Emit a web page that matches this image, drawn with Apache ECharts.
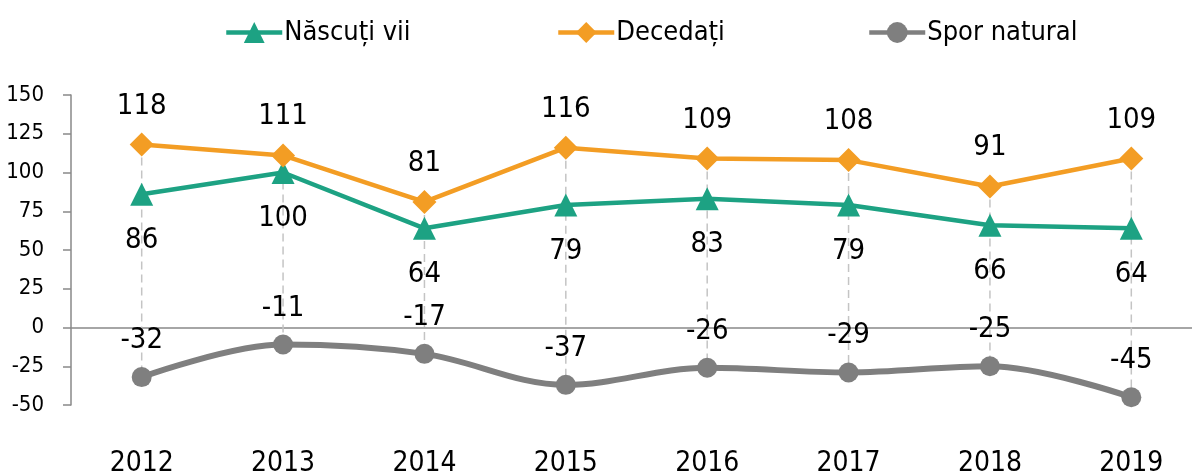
<!DOCTYPE html>
<html><head><meta charset="utf-8">
<script src="https://cdn.jsdelivr.net/npm/echarts@6/dist/echarts.min.js"></script>
<style>html,body{margin:0;padding:0;background:#fff}#c{width:1192px;height:472px}</style>
</head><body><div id="c"></div>
<script>
const categories = ['2012','2013','2014','2015','2016','2017','2018','2019'];
const nascuti = [86, 100, 64, 79, 83, 79, 66, 64];
const decedati = [118, 111, 81, 116, 109, 108, 91, 109];
const spor = [-32, -11, -17, -37, -26, -29, -25, -45];
const yTicks = { min: -50, max: 150, interval: 25 };
const seriesNames = ['Născuți vii', 'Decedați', 'Spor natural'];

const FONT = '"DejaVu Sans Condensed", "Liberation Sans Narrow", sans-serif';
const GREEN = '#1DA283', ORANGE = '#F39D24', GRAY = '#7F7F7F';
const chart = echarts.init(document.getElementById('c'));
const dropData = categories.map((c, i) => [i, decedati[i], spor[i]]);

const legendLefts = [219, 551, 862];
const legends = seriesNames.map((n, i) => ({
  top: 14, left: legendLefts[i], itemWidth: 56, itemHeight: 26, itemGap: 0,
  lineStyle: { width: 4.5 },
  textStyle: { fontSize: 27, color: '#000', fontFamily: FONT, padding: [0, 0, 0, -3] },
  data: [n]
}));

chart.setOption({
  animation: false,
  textStyle: { fontFamily: FONT },
  legend: legends,
  grid: { left: 71, right: -10, top: 95, bottom: 67, outerBoundsMode: 'none', containLabel: false },
  xAxis: [
    { type: 'category', data: categories, boundaryGap: true,
      axisLine: { onZero: true, lineStyle: { color: '#898989', width: 1.5 } },
      axisTick: { show: false }, axisLabel: { show: false } },
    { type: 'category', data: categories, boundaryGap: true, position: 'bottom',
      axisLine: { show: false, onZero: false }, axisTick: { show: false },
      axisLabel: { fontSize: 28, color: '#000', margin: 45, fontFamily: FONT } }
  ],
  yAxis: {
    type: 'value', min: yTicks.min, max: yTicks.max, interval: yTicks.interval,
    splitLine: { show: false },
    axisLine: { show: true, lineStyle: { color: '#898989', width: 1.5 } },
    axisTick: { show: true, length: 8, lineStyle: { color: '#898989', width: 1.5 } },
    axisLabel: { fontSize: 22, color: '#000', margin: 27, fontFamily: FONT }
  },
  series: [
    { type: 'custom', z: 1, silent: true, data: dropData,
      renderItem: function (params, api) {
        const p1 = api.coord([api.value(0), api.value(1)]);
        const p2 = api.coord([api.value(0), api.value(2)]);
        return { type: 'line', shape: { x1: p1[0], y1: p1[1], x2: p2[0], y2: p2[1] },
          style: { stroke: '#C4C4C4', lineWidth: 1.5, lineDash: [8, 5] } };
      } },
    { name: seriesNames[0], type: 'line', data: nascuti, z: 3,
      symbol: 'triangle', symbolSize: 23,
      lineStyle: { color: GREEN, width: 4.5 }, itemStyle: { color: GREEN },
      label: { show: true, position: 'bottom', distance: 20, fontSize: 29, color: '#000', fontFamily: FONT } },
    { name: seriesNames[1], type: 'line', data: decedati, z: 3,
      symbol: 'diamond', symbolSize: 24,
      lineStyle: { color: ORANGE, width: 4.5 }, itemStyle: { color: ORANGE },
      label: { show: true, position: 'top', distance: 12, fontSize: 29, color: '#000', fontFamily: FONT } },
    { name: seriesNames[2], type: 'line', data: spor, z: 3, smooth: 0.35,
      symbol: 'circle', symbolSize: 20,
      lineStyle: { color: GRAY, width: 6 }, itemStyle: { color: GRAY },
      label: { show: true, position: 'top', distance: 12, fontSize: 29, color: '#000', fontFamily: FONT } }
  ]
});
</script></body></html>
